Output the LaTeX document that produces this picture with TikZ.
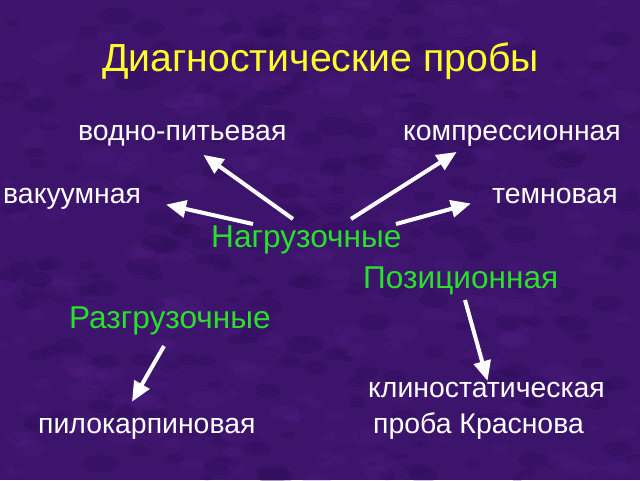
\documentclass[tikz,border=0pt]{standalone}
\usepackage{fontspec}
\setmainfont{Liberation Sans}
\usetikzlibrary{arrows.meta}
\definecolor{bgpurple}{RGB}{60,20,108}
\definecolor{bgdark}{RGB}{40,10,80}
\definecolor{bglight}{RGB}{88,34,140}
\definecolor{titleyellow}{RGB}{255,255,40}
\definecolor{labgreen}{RGB}{40,225,40}
\tikzset{
  lbl/.style={anchor=base west, inner sep=0pt, text=white, font=\fontsize{28.4}{30}\selectfont},
  grn/.style={lbl, text=labgreen, font=\fontsize{31.6}{34}\selectfont},
  ttl/.style={anchor=base west, inner sep=0pt, text=titleyellow, font=\fontsize{39.2}{42}\selectfont},
  arr/.style={draw=white, line width=4pt, -{Triangle[length=20pt,width=17pt]}, shorten >=-2pt}
}
\begin{document}
\begin{tikzpicture}[x=1pt,y=-1pt]
\useasboundingbox (0,0) rectangle (640,480);
\fill[bgpurple] (0,0) rectangle (640,480);
\pgfmathsetseed{7}
\begin{scope}
\clip (0,0) rectangle (640,480);
\foreach \i in {1,...,500}{
  \pgfmathsetmacro{\px}{rnd*640}
  \pgfmathsetmacro{\py}{rnd*480}
  \pgfmathsetmacro{\pr}{5+rnd*14}
  \pgfmathsetmacro{\pc}{rnd}
  \ifdim\pc pt<0.5pt
    \fill[bgdark, opacity=0.22] (\px,\py) ellipse ({\pr} and {\pr*0.5});
  \else
    \fill[bglight, opacity=0.18] (\px,\py) ellipse ({\pr} and {\pr*0.5});
  \fi
}
\end{scope}

\node[ttl] (title) at (102,71) {Диагностические пробы};

\node[lbl] (vodno) at (78,140) {водно-питьевая};
\node[lbl] (kompr) at (403,140) {компрессионная};
\node[lbl] (vakuum) at (3,203) {вакуумная};
\node[lbl] (temn) at (492,203) {темновая};
\node[grn] (nagr) at (211,247) {Нагрузочные};
\node[grn] (pozic) at (363,288) {Позиционная};
\node[grn] (razgr) at (69,328) {Разгрузочные};
\node[lbl] (klino) at (368,397) {клиностатическая};
\node[lbl] (pilo) at (38,433) {пилокарпиновая};
\node[lbl] (krasn) at (373,433) {проба Краснова};

\coordinate (a1s) at (293,219); \coordinate (a1e) at (205,156);
\coordinate (a2s) at (253,224); \coordinate (a2e) at (168,205);
\coordinate (a3s) at (351,219); \coordinate (a3e) at (455,153);
\coordinate (a4s) at (396,224); \coordinate (a4e) at (469,204);
\coordinate (a5s) at (465,300); \coordinate (a5e) at (487,379);
\coordinate (a6s) at (164,346); \coordinate (a6e) at (133,400);

\draw[arr] (a1s) -- (a1e);
\draw[arr] (a2s) -- (a2e);
\draw[arr] (a3s) -- (a3e);
\draw[arr] (a4s) -- (a4e);
\draw[arr] (a5s) -- (a5e);
\draw[arr] (a6s) -- (a6e);
\end{tikzpicture}
\end{document}
